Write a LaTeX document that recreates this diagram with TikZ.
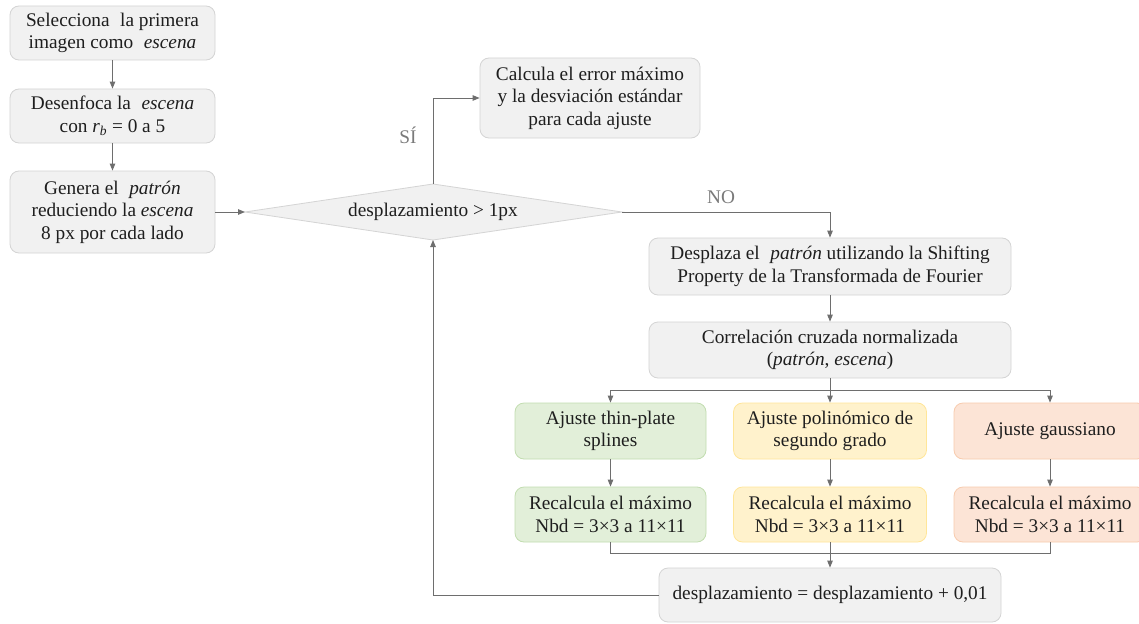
\documentclass[tikz,border=0pt]{standalone}
\usepackage{fontspec}
\setmainfont{LiberationSerif}[Extension=.ttf, UprightFont=*-Regular, ItalicFont=*-Italic, BoldFont=*-Bold, BoldItalicFont=*-BoldItalic, Ligatures=TeX]
\usetikzlibrary{arrows.meta}
\definecolor{boxfill}{HTML}{F1F1F1}
\definecolor{boxline}{HTML}{D4D4D4}
\definecolor{gfill}{HTML}{E2EFD9}
\definecolor{gline}{HTML}{C2DDB0}
\definecolor{yfill}{HTML}{FFF2CC}
\definecolor{yline}{HTML}{FFE699}
\definecolor{ofill}{HTML}{FCE4D6}
\definecolor{oline}{HTML}{F8CBAD}
\definecolor{arrowc}{HTML}{6E6E6E}
\definecolor{lblc}{HTML}{7A7A7A}
\definecolor{txtc}{HTML}{1E1E1E}
\newcommand{\fs}{\rmfamily\fontsize{19.3}{22.5}\selectfont}
\newcommand{\xs}{\hspace{0.3em}}
\begin{document}
\begin{tikzpicture}[x=1pt,y=-1pt,
  box/.style={draw=boxline, fill=boxfill, rounded corners=9pt, line width=0.8pt, align=center, inner sep=0pt, font=\fs, text=txtc},
  gbox/.style={box, draw=gline, fill=gfill},
  ybox/.style={box, draw=yline, fill=yfill},
  obox/.style={box, draw=oline, fill=ofill},
  conn/.style={draw=arrowc, line width=0.9pt},
  arr/.style={conn, -{Triangle[length=7pt,width=5.5pt]}},
  lbl/.style={text=lblc, font=\fs}]
\useasboundingbox (0,0) rectangle (1139,623);
\fill[white] (0,0) rectangle (1139,623);

\node[box, minimum width=205pt, minimum height=54pt] (s1) at (112.5,33) {Selecciona \xs la primera\\imagen como \xs\textit{escena}};
\node[box, minimum width=205pt, minimum height=54pt] (s2) at (112.5,116) {Desenfoca la \xs\textit{escena}\\con \textit{r}\textsubscript{\textit{b}} = 0 a 5};
\node[box, minimum width=205pt, minimum height=82pt] (s3) at (112.5,212) {Genera el \xs\textit{patrón}\\reduciendo la \textit{escena}\\8 px por cada lado};

\coordinate (dL) at (245,212);
\coordinate (dR) at (622,212);
\coordinate (dT) at (433,184);
\coordinate (dB) at (433,240);
\draw[draw=boxline, fill=boxfill, line width=0.8pt] (dL) -- (dT) -- (dR) -- (dB) -- cycle;
\node[font=\fs, text=txtc] (dtext) at (433,212) {desplazamiento > 1px};

\node[box, minimum width=220pt, minimum height=80pt] (calc) at (590,98) {Calcula el error máximo\\y la desviación estándar\\para cada ajuste};

\node[box, minimum width=362pt, minimum height=57pt] (desp) at (830,266.5) {Desplaza el \xs\textit{patrón} utilizando la Shifting\\Property de la Transformada de Fourier};
\node[box, minimum width=362pt, minimum height=56pt] (corr) at (830,350) {Correlación cruzada normalizada\\(\textit{patrón}, \textit{escena})};

\node[gbox, minimum width=191pt, minimum height=56pt] (g1) at (610.5,431) {Ajuste thin-plate\\splines};
\node[ybox, minimum width=193pt, minimum height=56pt] (y1) at (830,431) {Ajuste polinómico de\\segundo grado};
\node[obox, minimum width=192pt, minimum height=56pt] (o1) at (1050,431) {Ajuste gaussiano};

\node[gbox, minimum width=191pt, minimum height=55pt] (g2) at (610.5,514.5) {Recalcula el máximo\\Nbd = 3×3 a 11×11};
\node[ybox, minimum width=193pt, minimum height=55pt] (y2) at (830,514.5) {Recalcula el máximo\\Nbd = 3×3 a 11×11};
\node[obox, minimum width=192pt, minimum height=55pt] (o2) at (1050,514.5) {Recalcula el máximo\\Nbd = 3×3 a 11×11};

\node[box, minimum width=342pt, minimum height=54pt] (fin) at (830,595) {desplazamiento = desplazamiento + 0,01};

\node[lbl] (si) at (408,135) {SÍ};
\node[lbl] (no) at (721,197) {NO};

\draw[arr] (s1) -- (s2);
\draw[arr] (s2) -- (s3);
\draw[arr] (s3.east) -- (dL);
\draw[arr] (dT) |- (calc.west);
\draw[arr] (dR) -| (desp.north);
\draw[arr] (desp) -- (corr);
\coordinate (br) at (830,390);
\draw[conn] (corr.south) -- (br);
\draw[arr] (br) -| (g1.north);
\draw[arr] (br) -| (o1.north);
\draw[arr] (br) -- (y1.north);
\draw[arr] (g1) -- (g2);
\draw[arr] (y1) -- (y2);
\draw[arr] (o1) -- (o2);
\coordinate (mg) at (830,553);
\draw[conn] (g2.south) |- (mg);
\draw[conn] (o2.south) |- (mg);
\draw[arr] (y2.south) -- (fin.north);
\draw[arr] (fin.west) -| (dB);
\end{tikzpicture}
\end{document}
